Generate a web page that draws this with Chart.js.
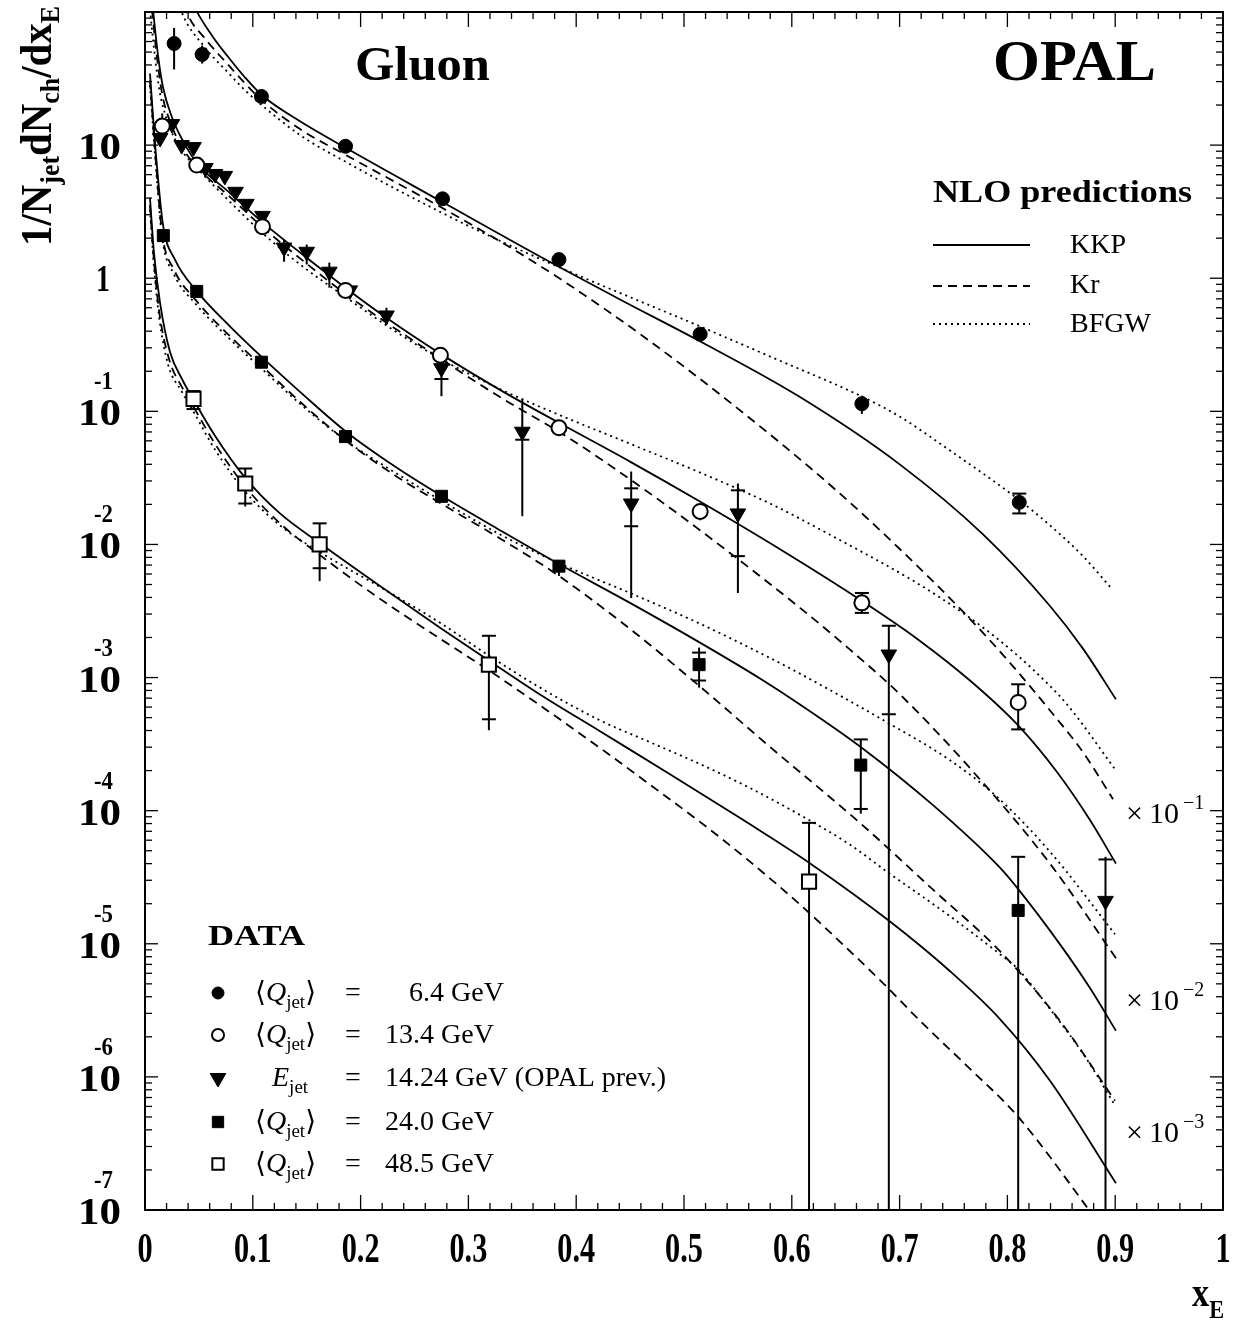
<!DOCTYPE html>
<html>
<head>
<meta charset="utf-8">
<script src="https://cdn.jsdelivr.net/npm/chart.js@4.4.1/dist/chart.umd.min.js"></script>
<style>
  html, body { margin: 0; padding: 0; background: #fff; }
</style>
</head>
<body>
<canvas id="c" width="1239" height="1326"></canvas>
<script>
// tick labels
const xTickLabels = ['0', '0.1', '0.2', '0.3', '0.4', '0.5', '0.6', '0.7', '0.8', '0.9', '1'];
const yDecades = [-7, -6, -5, -4, -3, -2, -1, 0, 1];

// --- data points ---
// <Qjet> = 6.4 GeV (filled circles)
const q64X = [0.027, 0.053, 0.108, 0.186, 0.276, 0.384, 0.515, 0.665, 0.811];
const q64Y = [58, 48, 23.2, 9.8, 3.95, 1.38, 0.38, 0.114, 0.0207];
const q64Hi = [76, 56, null, null, null, null, 0.42, 0.131, 0.0241];
const q64Lo = [37, 41, null, null, null, null, 0.35, 0.0957, 0.0171];
const q64CapHi = [null, null, null, null, null, null, null, null, 0.0241];
const q64CapLo = [null, null, null, null, null, null, null, null, 0.0171];

// <Qjet> = 13.4 GeV (open circles)
const q134X = [0.016, 0.048, 0.109, 0.186, 0.274, 0.384, 0.515, 0.665, 0.810];
const q134Y = [13.9, 7.08, 2.44, 0.81, 0.264, 0.0753, 0.0177, 0.00364, 6.5e-4];
const q134Hi = [17.3, null, null, null, null, null, null, 0.00432, 8.9e-4];
const q134Lo = [12.0, null, null, null, null, null, 0.0152, 0.00306, 4.08e-4];
const q134CapHi = [null, null, null, null, null, null, null, 0.00432, 8.9e-4];
const q134CapLo = [null, null, null, null, null, null, null, 0.00306, 4.08e-4];

// Ejet = 14.24 GeV, OPAL prev. (triangles)
const e1424X = [0.014, 0.025, 0.034, 0.045, 0.056, 0.065, 0.074, 0.084, 0.094, 0.109, 0.129, 0.150, 0.171, 0.190, 0.224, 0.275, 0.350, 0.451, 0.550, 0.690, 0.891];
const e1424Y = [11.3, 14.4, 10, 9.66, 6.73, 6.07, 5.87, 4.46, 3.62, 2.94, 1.70, 1.58, 1.12, 0.81, 0.525, 0.211, 0.0703, 0.0203, 0.0171, 0.00149, 2.1e-5];
const e1424Hi = [null, null, null, null, null, null, null, null, null, null, 1.95, 1.79, 1.31, null, 0.6, 0.245, 0.124, 0.0353, 0.0287, 0.00245, 4.5e-5];
const e1424Lo = [null, null, null, null, null, null, null, null, null, null, 1.33, 1.27, 0.85, null, 0.45, 0.13, 0.0163, 0.00396, 0.00432, 1e-9, 1e-9];
const e1424CapHi = [null, null, null, null, null, null, null, null, null, null, null, null, null, null, null, null, null, 0.0264, 0.0255, 0.00245, 4.3e-5];
const e1424CapLo = [null, null, null, null, null, null, null, null, null, null, null, null, null, null, null, 0.175, 0.0612, 0.0137, 0.00817, 5.3e-4, null];

// <Qjet> = 24.0 GeV (filled squares)
const q240X = [0.017, 0.048, 0.108, 0.186, 0.275, 0.384, 0.514, 0.664, 0.810];
const q240Y = [2.09, 0.796, 0.234, 0.0646, 0.023, 0.00687, 0.00125, 2.2e-4, 1.78e-5];
const q240Hi = [null, null, null, null, null, 0.00762, 0.00168, 3.43e-4, 4.5e-5];
const q240Lo = [null, null, null, null, null, 0.0058, 8.4e-4, 9.5e-5, 1e-9];
const q240CapHi = [null, null, null, null, null, null, 0.00154, 3.43e-4, 4.5e-5];
const q240CapLo = [null, null, null, null, null, null, 9.5e-4, 1.03e-4, null];

// <Qjet> = 48.5 GeV (open squares)
const q485X = [0.045, 0.093, 0.162, 0.319, 0.616];
const q485Y = [0.124, 0.0287, 0.01, 0.00125, 2.93e-5];
const q485Hi = [0.142, 0.0372, 0.0144, 0.00206, 8.1e-5];
const q485Lo = [0.104, 0.0193, 0.0053, 4.02e-4, 1e-9];
const q485CapHi = [0.142, 0.0372, 0.0144, 0.00206, 8.1e-5];
const q485CapLo = [0.104, 0.0203, 0.00663, 4.86e-4, null];

// --- NLO predictions, values as drawn (already multiplied by the x10^-n factors) ---
const kkp1X = [0.025, 0.0353, 0.0482, 0.0622, 0.0761, 0.0928, 0.1085, 0.1438, 0.1865, 0.2755, 0.3664, 0.4406, 0.5148, 0.6076, 0.7004, 0.7774, 0.8395, 0.8701, 0.9007];
const kkp1Y = [320, 175, 100.5, 66.4, 47.1, 32.2, 23.7, 15.1, 9.5, 3.75, 1.455, 0.693, 0.336, 0.128, 0.0398, 0.0119, 0.00345, 0.00165, 6.86e-4];
const kr1X = [0.025, 0.039, 0.0557, 0.0761, 0.0928, 0.1085, 0.1438, 0.1865, 0.2755, 0.3451, 0.3915, 0.462, 0.5455, 0.6382, 0.7004, 0.7625, 0.8024, 0.8395, 0.8701, 0.898];
const kr1Y = [240, 98.6, 63.1, 41.0, 29.1, 21.7, 13.2, 8.41, 3.38, 1.585, 0.914, 0.367, 0.112, 0.0268, 0.0092, 0.00291, 0.00129, 5.66e-4, 2.75e-4, 1.22e-4];
const bf1X = [0.02, 0.0343, 0.0557, 0.0761, 0.0928, 0.1085, 0.1438, 0.1865, 0.2755, 0.3293, 0.3915, 0.5148, 0.577, 0.666, 0.7004, 0.7468, 0.8089, 0.8395, 0.8701, 0.897];
const bf1Y = [240, 98.6, 54.1, 35.7, 25.8, 19.9, 11.9, 7.46, 3.1, 1.91, 1.14, 0.435, 0.264, 0.128, 0.091, 0.0507, 0.0222, 0.0139, 0.00817, 0.00462];

const kkp2X = [0.0074, 0.0121, 0.0167, 0.025, 0.0353, 0.0482, 0.0788, 0.1085, 0.1438, 0.1855, 0.2273, 0.2746, 0.3293, 0.384, 0.4499, 0.5148, 0.5891, 0.6651, 0.7161, 0.7653, 0.8089, 0.846, 0.8766, 0.9007];
const kkp2Y = [104, 47.1, 27.2, 16.2, 10.7, 7.33, 4.37, 2.65, 1.56, 0.853, 0.483, 0.269, 0.145, 0.082, 0.0419, 0.021, 0.0092, 0.00376, 0.00196, 9.5e-4, 4.46e-4, 1.95e-4, 8.5e-5, 4.0e-5];
const kr2X = [0.0065, 0.0111, 0.0158, 0.0241, 0.0343, 0.0482, 0.0788, 0.1085, 0.1438, 0.1865, 0.2746, 0.3293, 0.3915, 0.4592, 0.5148, 0.6076, 0.654, 0.7004, 0.7718, 0.8395, 0.9007];
const kr2Y = [104, 45.5, 24.5, 14.4, 9.66, 6.85, 4.08, 2.44, 1.41, 0.757, 0.247, 0.128, 0.0644, 0.0273, 0.0128, 0.00334, 0.00162, 7.46e-4, 1.82e-4, 4.0e-5, 7.8e-6];
const bf2X = [0.0046, 0.0093, 0.0139, 0.0223, 0.0325, 0.0482, 0.077, 0.1085, 0.1438, 0.1865, 0.2365, 0.2746, 0.3293, 0.384, 0.4499, 0.5148, 0.5798, 0.6382, 0.7161, 0.7625, 0.7931, 0.8237, 0.8553, 0.8998];
const bf2Y = [104, 45.5, 24.5, 14.1, 9.5, 6.73, 3.88, 2.2, 1.27, 0.718, 0.379, 0.247, 0.147, 0.0942, 0.0571, 0.0347, 0.0203, 0.0115, 0.00513, 0.00291, 0.00189, 0.00115, 6.28e-4, 2.05e-4];

const kkp3X = [0.0046, 0.0102, 0.0167, 0.0278, 0.0482, 0.0788, 0.1085, 0.1438, 0.1865, 0.2319, 0.2746, 0.3293, 0.384, 0.4499, 0.5148, 0.5705, 0.6076, 0.6642, 0.731, 0.7931, 0.8089, 0.8488, 0.8766, 0.9007];
const kkp3Y = [34.5, 8.41, 2.52, 1.38, 0.796, 0.435, 0.255, 0.14, 0.0703, 0.0385, 0.0233, 0.0128, 0.00712, 0.00364, 0.00183, 9.84e-4, 6.28e-4, 3.0e-4, 1.1e-4, 3.73e-5, 2.64e-5, 9.9e-6, 4.65e-6, 2.22e-6];
const kr3X = [0.0046, 0.0102, 0.0158, 0.0269, 0.0473, 0.0788, 0.1085, 0.1438, 0.1865, 0.2319, 0.2746, 0.3293, 0.384, 0.4499, 0.5148, 0.577, 0.6642, 0.731, 0.7931, 0.8488, 0.8998];
const kr3Y = [30.6, 7.33, 2.2, 1.16, 0.682, 0.367, 0.219, 0.118, 0.0601, 0.033, 0.0203, 0.0111, 0.0058, 0.00232, 8.57e-4, 3.15e-4, 7.96e-5, 2.55e-5, 8.79e-6, 2.63e-6, 6.63e-7];
const bf3X = [0.0046, 0.0102, 0.0158, 0.0269, 0.0473, 0.0788, 0.1085, 0.1438, 0.1865, 0.2319, 0.2746, 0.3293, 0.384, 0.4499, 0.5148, 0.577, 0.6076, 0.6883, 0.7468, 0.7903, 0.8395, 0.8998];
const bf3Y = [28.1, 6.73, 2.05, 1.07, 0.637, 0.348, 0.208, 0.114, 0.0601, 0.0347, 0.0214, 0.0119, 0.00724, 0.00432, 0.00254, 0.00144, 0.00107, 4.61e-4, 2.39e-4, 1.27e-4, 4.92e-5, 1.18e-5];

const kkp4X = [0.0046, 0.0083, 0.0139, 0.0232, 0.0343, 0.0445, 0.0649, 0.0928, 0.1252, 0.1623, 0.218, 0.2737, 0.3191, 0.3664, 0.4221, 0.487, 0.5547, 0.616, 0.6911, 0.7468, 0.7931, 0.8395, 0.9007];
const kkp4Y = [4.02, 1.56, 0.659, 0.279, 0.175, 0.124, 0.0656, 0.0318, 0.0171, 0.0102, 0.00487, 0.00237, 0.00134, 7.46e-4, 3.95e-4, 1.88e-4, 8.53e-5, 4.07e-5, 1.47e-5, 6.22e-6, 2.72e-6, 9.37e-7, 1.59e-7];
const kr4X = [0.0046, 0.0083, 0.013, 0.0223, 0.0343, 0.0445, 0.0649, 0.0928, 0.1252, 0.1623, 0.218, 0.2737, 0.3191, 0.3664, 0.4249, 0.4777, 0.5148, 0.5612, 0.6076, 0.654, 0.6846, 0.7189, 0.7653, 0.8089, 0.8738, 0.9007];
const kr4Y = [3.56, 1.36, 0.574, 0.247, 0.152, 0.11, 0.0571, 0.0273, 0.0144, 0.00831, 0.0039, 0.00196, 0.00113, 6.18e-4, 2.85e-4, 1.38e-4, 8.24e-5, 4.14e-5, 1.97e-5, 8.79e-6, 5.07e-6, 2.64e-6, 1.15e-6, 5.13e-7, 1.05e-7, 5.2e-8];
const bf4X = [0.0046, 0.0083, 0.013, 0.0213, 0.0343, 0.0445, 0.0649, 0.0928, 0.1252, 0.1623, 0.218, 0.2737, 0.3191, 0.3664, 0.4221, 0.4685, 0.5148, 0.5612, 0.6076, 0.654, 0.6883, 0.7468, 0.7931, 0.8089, 0.8395, 0.872, 0.8998];
const bf4Y = [3.27, 1.22, 0.518, 0.226, 0.14, 0.101, 0.0516, 0.025, 0.0139, 0.00875, 0.00479, 0.00258, 0.00146, 8.41e-4, 4.77e-4, 3.27e-4, 2.24e-4, 1.48e-4, 9.29e-5, 5.55e-5, 3.48e-5, 1.61e-5, 8.35e-6, 6.56e-6, 3.24e-6, 1.42e-6, 6.1e-7];

const SERIF = "'Liberation Serif', 'DejaVu Serif', serif";
const KR_DASH = [9, 6];
const BF_DASH = [2, 4];

function pts(xs, ys) {
  return xs.map((v, i) => ({ x: v, y: ys[i] }));
}

const markers = [
  { x: q64X, y: q64Y, style: 'circle', r: 7, fill: '#000', bw: 1, rot: 0 },
  { x: q134X, y: q134Y, style: 'circle', r: 7.5, fill: '#fff', bw: 2, rot: 0 },
  { x: e1424X, y: e1424Y, style: 'triangle', r: 9, fill: '#000', bw: 1, rot: 180 },
  { x: q240X, y: q240Y, style: 'rect', r: 8.5, fill: '#000', bw: 1, rot: 0 },
  { x: q485X, y: q485Y, style: 'rect', r: 10, fill: '#fff', bw: 2, rot: 0 }
];

const errSets = [
  [q64X, q64Y, q64Hi, q64Lo, q64CapHi, q64CapLo],
  [q134X, q134Y, q134Hi, q134Lo, q134CapHi, q134CapLo],
  [e1424X, e1424Y, e1424Hi, e1424Lo, e1424CapHi, e1424CapLo],
  [q240X, q240Y, q240Hi, q240Lo, q240CapHi, q240CapLo],
  [q485X, q485Y, q485Hi, q485Lo, q485CapHi, q485CapLo]
];

const curves = [
  [kkp1X, kkp1Y, []], [kr1X, kr1Y, KR_DASH], [bf1X, bf1Y, BF_DASH],
  [kkp2X, kkp2Y, []], [kr2X, kr2Y, KR_DASH], [bf2X, bf2Y, BF_DASH],
  [kkp3X, kkp3Y, []], [kr3X, kr3Y, KR_DASH], [bf3X, bf3Y, BF_DASH],
  [kkp4X, kkp4Y, []], [kr4X, kr4Y, KR_DASH], [bf4X, bf4Y, BF_DASH]
];

const datasets = [];
markers.forEach(m => {
  datasets.push({
    data: pts(m.x, m.y),
    showLine: false,
    pointStyle: m.style,
    pointRadius: m.r,
    pointRotation: m.rot,
    pointBackgroundColor: m.fill,
    pointBorderColor: '#000',
    pointBorderWidth: m.bw
  });
});
curves.forEach(c => {
  datasets.push({
    data: pts(c[0], c[1]),
    borderColor: '#000',
    borderWidth: 1.8,
    borderDash: c[2],
    pointRadius: 0,
    fill: false,
    cubicInterpolationMode: 'monotone'
  });
});

// draws text pieces left to right; optional fit width squeezes/stretches horizontally
function runs(ctx, parts, x, y, fitW) {
  let w = 0;
  parts.forEach(p => { ctx.font = p[1]; w += ctx.measureText(p[0]).width; });
  const s = fitW ? fitW / w : 1;
  ctx.save();
  ctx.translate(x, y);
  ctx.scale(s, 1);
  let cx = 0;
  parts.forEach(p => {
    ctx.font = p[1];
    ctx.fillText(p[0], cx, p[2] || 0);
    cx += ctx.measureText(p[0]).width;
  });
  ctx.restore();
}

function seg(ctx, x1, y1, x2, y2) {
  ctx.beginPath();
  ctx.moveTo(x1, y1);
  ctx.lineTo(x2, y2);
  ctx.stroke();
}

const errorBars = {
  id: 'errorBars',
  beforeDatasetsDraw(chart) {
    const { ctx, chartArea: a, scales: { x, y } } = chart;
    ctx.save();
    ctx.strokeStyle = '#000';
    ctx.lineWidth = 2;
    const clampY = v => Math.min(a.bottom, Math.max(a.top, y.getPixelForValue(v)));
    errSets.forEach(([xs, ys, hi, lo, cHi, cLo]) => {
      xs.forEach((xv, i) => {
        const px = x.getPixelForValue(xv);
        const py = y.getPixelForValue(ys[i]);
        if (hi[i] != null) seg(ctx, px, py, px, clampY(hi[i]));
        if (lo[i] != null) seg(ctx, px, py, px, clampY(lo[i]));
        if (cHi[i] != null) { const c = clampY(cHi[i]); seg(ctx, px - 7, c, px + 7, c); }
        if (cLo[i] != null) { const c = clampY(cLo[i]); seg(ctx, px - 7, c, px + 7, c); }
      });
    });
    ctx.restore();
  }
};

const frame = {
  id: 'frame',
  afterDraw(chart) {
    const { ctx, chartArea: a, scales: { x, y } } = chart;
    ctx.save();
    ctx.strokeStyle = '#000';
    ctx.fillStyle = '#000';
    ctx.lineWidth = 2;
    ctx.strokeRect(a.left, a.top, a.right - a.left, a.bottom - a.top);

    // x ticks, top and bottom
    ctx.lineWidth = 1.3;
    for (let i = 0; i <= 50; i++) {
      const px = x.getPixelForValue(i / 50);
      const len = i % 5 === 0 ? 15 : 7;
      seg(ctx, px, a.bottom, px, a.bottom - len);
      seg(ctx, px, a.top, px, a.top + len);
    }
    // y ticks, left and right
    yDecades.forEach(d => {
      for (let m = 1; m <= 9; m++) {
        const v = m * Math.pow(10, d);
        const py = y.getPixelForValue(v);
        if (py < a.top - 0.5) continue;
        const len = m === 1 ? 13 : 7;
        seg(ctx, a.left, py, a.left + len, py);
        seg(ctx, a.right, py, a.right - len, py);
      }
    });

    // x tick labels
    ctx.textBaseline = 'alphabetic';
    ctx.textAlign = 'center';
    xTickLabels.forEach((t, i) => {
      const px = x.getPixelForValue(i / 10);
      ctx.save();
      ctx.translate(px, 1262);
      ctx.scale(0.72, 1);
      ctx.font = 'bold 42px ' + SERIF;
      ctx.fillText(t, 0, 0);
      ctx.restore();
    });

    // y tick labels
    ctx.textAlign = 'left';
    yDecades.forEach(d => {
      const py = y.getPixelForValue(Math.pow(10, d));
      if (d === 0) {
        runs(ctx, [['1', 'bold 38px ' + SERIF]], 96, py + 13, 14);
      } else {
        runs(ctx, [['10', 'bold 38px ' + SERIF]], 78, py + 14, 43);
        if (d < 0) runs(ctx, [[String(d), 'bold 25px ' + SERIF]], 94, py - 22, 19);
      }
    });

    // axis titles
    ctx.save();
    ctx.translate(51, 246);
    ctx.rotate(-Math.PI / 2);
    runs(ctx, [
      ['1/N', 'bold 44px ' + SERIF], ['jet', 'bold 28px ' + SERIF, 8],
      ['dN', 'bold 44px ' + SERIF], ['ch', 'bold 28px ' + SERIF, 8],
      ['/dx', 'bold 44px ' + SERIF], ['E', 'bold 28px ' + SERIF, 8]
    ], 0, 0, 240);
    ctx.restore();
    runs(ctx, [['x', 'bold 40px ' + SERIF], ['E', 'bold 26px ' + SERIF, 12]], 1192, 1306, 32);

    // headings
    runs(ctx, [['Gluon', 'bold 48px ' + SERIF]], 355, 80, 135);
    runs(ctx, [['OPAL', 'bold 56px ' + SERIF]], 993, 80, 163);

    // NLO legend
    runs(ctx, [['NLO predictions', 'bold 32px ' + SERIF]], 933, 202, 259);
    const nlo = [['KKP', [], 245, 253], ['Kr', KR_DASH, 286, 293], ['BFGW', BF_DASH, 324, 332]];
    nlo.forEach(([t, dash, ly, by]) => {
      ctx.lineWidth = 1.8;
      ctx.setLineDash(dash);
      seg(ctx, 933, ly, 1030, ly);
      ctx.setLineDash([]);
      ctx.font = '28px ' + SERIF;
      ctx.fillText(t, 1070, by);
    });

    // scale factors
    [['-1', 823], ['-2', 1010], ['-3', 1142]].forEach(([e, by]) => {
      ctx.font = '30px ' + SERIF;
      ctx.fillText('\u00d7', 1126, by);
      ctx.fillText('10', 1149, by);
      ctx.font = '20px ' + SERIF;
      ctx.fillText('\u2212' + e.slice(1), 1183, by - 14);
    });

    // DATA legend
    runs(ctx, [['DATA', 'bold 30px ' + SERIF]], 208, 945, 97);
    const f = '28px ' + SERIF, fi = 'italic 28px ' + SERIF, fs = '19px ' + SERIF;
    const rows = [
      [993, 'circle', '#000', 6, 0, '  6.4 GeV', 395],
      [1035, 'circle', '#fff', 6, 0, '13.4 GeV', 385],
      [1078, 'triangle', '#000', 9, 180, '14.24 GeV (OPAL prev.)', 385],
      [1122, 'rect', '#000', 8, 0, '24.0 GeV', 385],
      [1164, 'rect', '#fff', 8, 0, '48.5 GeV', 385]
    ];
    rows.forEach(([ly, st, fill, r, rot, val, vx]) => {
      ctx.fillStyle = fill;
      ctx.strokeStyle = '#000';
      ctx.lineWidth = fill === '#fff' ? 2 : 1;
      Chart.helpers.drawPoint(ctx, { pointStyle: st, radius: r, rotation: rot, borderWidth: ctx.lineWidth }, 218, ly);
      ctx.fillStyle = '#000';
      const by = ly + 8;
      if (st === 'triangle') {
        runs(ctx, [['E', fi], ['jet', fs, 7]], 272, by);
      } else {
        runs(ctx, [['\u27e8', f], ['Q', fi], ['jet', fs, 7], ['\u27e9', f]], 255, by);
      }
      ctx.font = f;
      ctx.fillText('=', 345, by);
      ctx.fillText(val, vx, by);
    });
    ctx.restore();
  }
};

new Chart(document.getElementById('c'), {
  type: 'line',
  data: { datasets },
  options: {
    responsive: false,
    animation: false,
    layout: { padding: { left: 145, top: 4, right: 16, bottom: 116 } },
    plugins: { legend: { display: false }, tooltip: { enabled: false } },
    scales: {
      x: { type: 'linear', min: 0, max: 1, display: false },
      y: { type: 'logarithmic', min: 1e-7, max: 100, display: false }
    }
  },
  plugins: [errorBars, frame]
});
</script>
</body>
</html>
